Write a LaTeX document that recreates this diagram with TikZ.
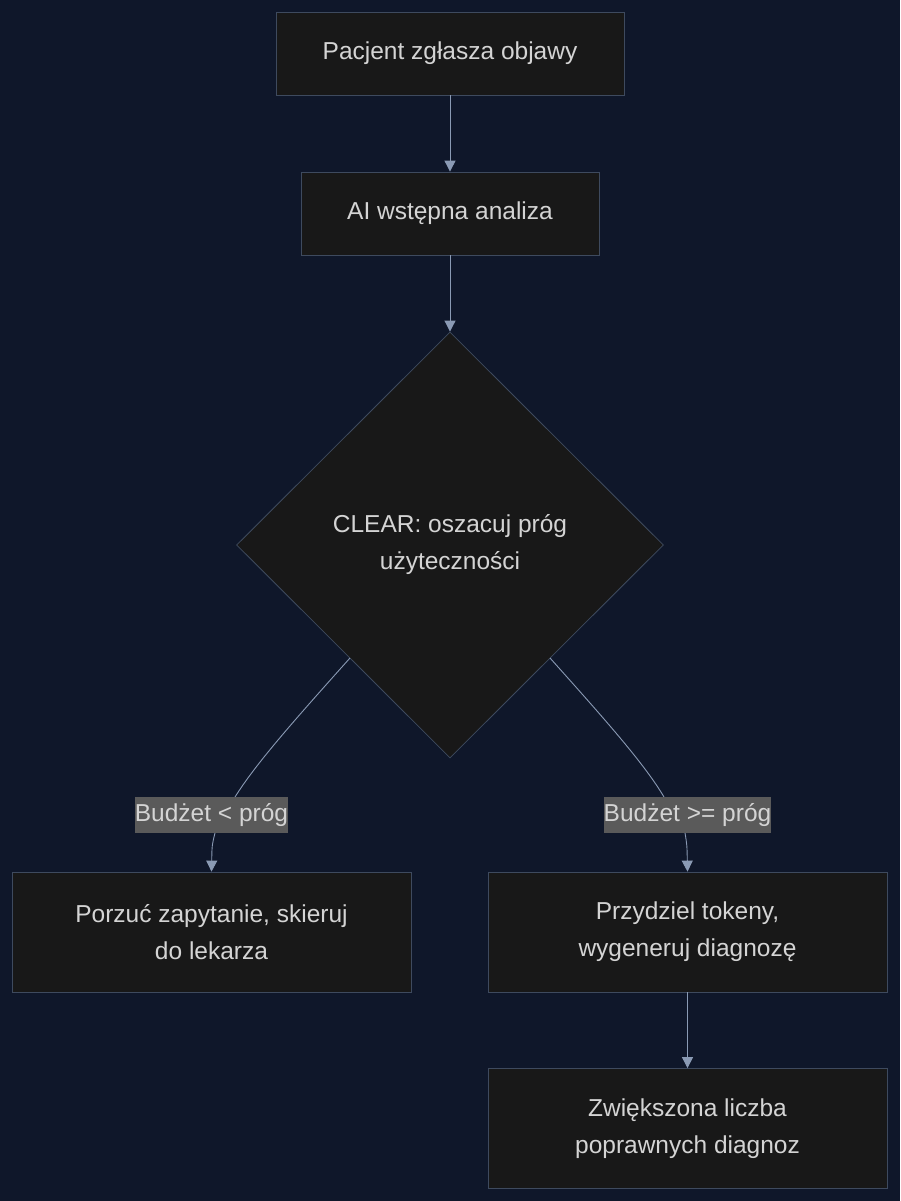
\documentclass[tikz,border=0pt]{standalone}
\usepackage{fontspec}
\setmainfont{Liberation Sans}
\usetikzlibrary{shapes.geometric,arrows.meta}
\definecolor{bg}{HTML}{0F172A}
\definecolor{nfill}{HTML}{181818}
\definecolor{nborder}{HTML}{3E4A5E}
\definecolor{txt}{HTML}{D4D4D4}
\definecolor{edge}{HTML}{8A9AB4}
\definecolor{lbl}{HTML}{5A5A5A}
\begin{document}
\begin{tikzpicture}[x=1pt,y=-1pt,
  box/.style={draw=nborder,fill=nfill,text=txt,font=\fontsize{24.5}{37}\selectfont,align=center,inner sep=0,line width=0.8pt},
  dia/.style={box,shape=diamond,minimum width=427pt,minimum height=426pt},
  lab/.style={fill=lbl,text=txt,font=\fontsize{24.5}{28}\selectfont,inner sep=0,minimum height=36pt},
  arr/.style={draw=edge,line width=0.9pt,-{Triangle[width=11pt,length=11pt]}},
  ln/.style={draw=edge,line width=0.9pt}]
\fill[bg] (0,0) rectangle (900,1201);
\useasboundingbox (0,0) rectangle (900,1201);
\node[box,minimum width=348pt,minimum height=83pt] (A) at (450,53.5) {Pacjent zgłasza objawy};
\node[box,minimum width=298pt,minimum height=83pt] (B) at (450,213.5) {AI wstępna analiza};
\node[dia] (C) at (450,545) {CLEAR: oszacuj próg\\użyteczności};
\node[box,minimum width=399pt,minimum height=120pt] (D) at (211.5,932) {Porzuć zapytanie, skieruj\\do lekarza};
\node[box,minimum width=399pt,minimum height=120pt] (E) at (687.5,932) {Przydziel tokeny,\\wygeneruj diagnozę};
\node[box,minimum width=399pt,minimum height=120pt] (F) at (687.5,1128.5) {Zwiększona liczba\\poprawnych diagnoz};
\coordinate (c1) at (350,658);
\coordinate (c2) at (550,658);
\coordinate (l1t) at (235,797);
\coordinate (l2t) at (664,797);
\coordinate (l1b) at (215,833);
\coordinate (l2b) at (685,833);
\draw[arr] (A) -- (B);
\draw[arr] (B) -- (C);
\draw[ln] (c1) .. controls (290,725) and (255,765) .. (l1t);
\draw[arr] (l1b) .. controls (212,845) .. (D.north);
\draw[ln] (c2) .. controls (610,725) and (645,765) .. (l2t);
\draw[arr] (l2b) .. controls (687,845) .. (E.north);
\draw[arr] (E) -- (F);
\node[lab,minimum width=153pt] (L1) at (211.5,815) {Budżet < próg};
\node[lab,minimum width=167pt] (L2) at (687.5,815) {Budżet >= próg};
\end{tikzpicture}
\end{document}
